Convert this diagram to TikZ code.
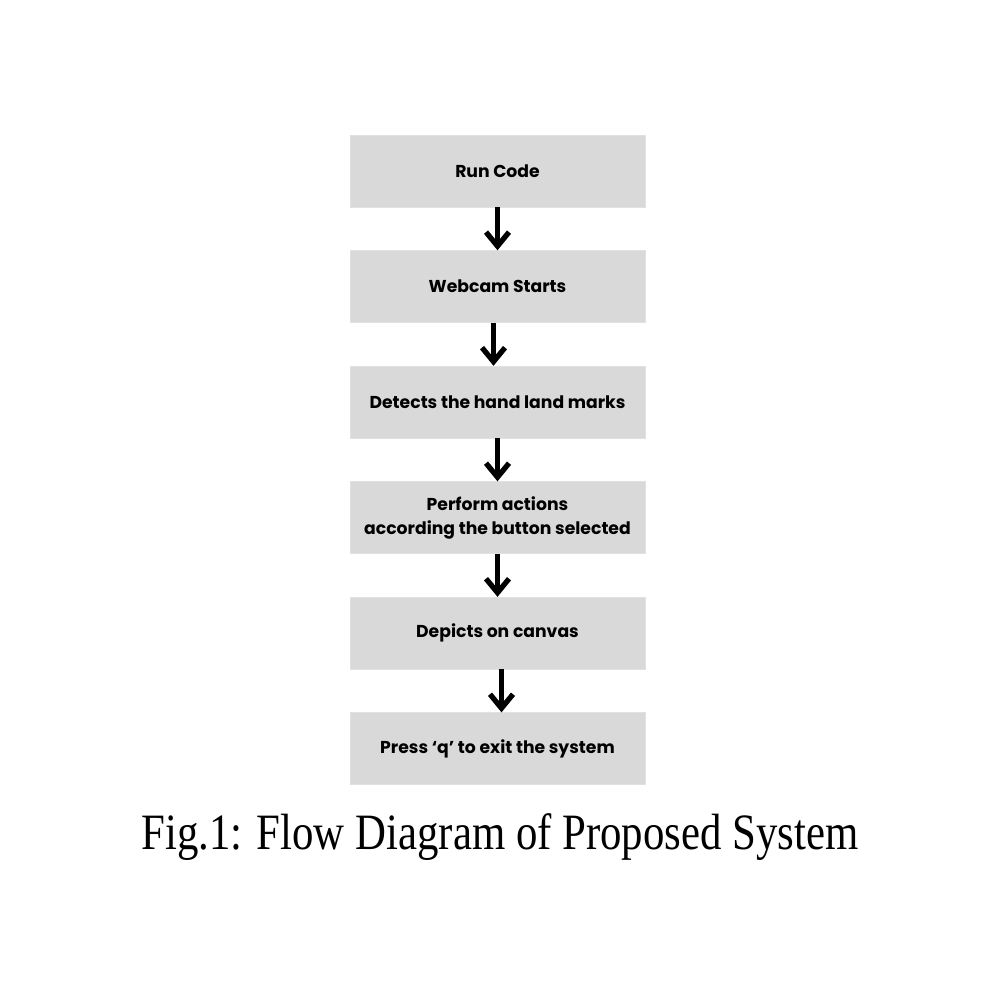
\documentclass[tikz,border=0pt]{standalone}
\usepackage{graphicx}
\usepackage{fontspec}
\setmainfont{Liberation Serif}
\newfontfamily\boxfont{Poppins}
\usetikzlibrary{
	arrows.meta,
	positioning
}
\definecolor{boxgray}{HTML}{D9D9D9}
\tikzset{
	flowbox/.style={fill=boxgray, draw=boxgray!80!white, line width=0.3pt, minimum width=5.9cm, minimum height=1.44cm, align=center,
		font=\boxfont\bfseries\fontsize{9.8}{13.6}\selectfont},
	flowarrow/.style={-{Straight Barb[length=0.28cm, width=0.46cm, line width=3pt]}, line width=3.2pt}
}

\begin{document}
\begin{tikzpicture}[node distance=0.86cm]
	\useasboundingbox (0,0) rectangle (20,-20);
	\node[flowbox] (code) at (9.95,-3.42) {Run Code};
	\node[flowbox] (webcam) [below=of code] {Webcam Starts};
	\node[flowbox] (detect) [below=of webcam] {Detects the hand land marks};
	\node[flowbox] (perform) [below=of detect] {Perform actions\\according the button selected};
	\node[flowbox] (depict) [below=of perform] {Depicts on canvas};
	\node[flowbox] (exit) [below=of depict] {Press ‘q’ to exit the system};

	% caption is set a little narrow, as in the figure
	\node[anchor=base, font=\fontsize{29}{34}\selectfont] (caption) at (10,-16.98) {\scalebox{0.84}[1]{Fig.1: Flow Diagram of Proposed System}};

	\draw[flowarrow] (code) -- (webcam);
	\draw[flowarrow] ([xshift=-0.08cm]webcam.south) -- ([xshift=-0.08cm]detect.north);
	\draw[flowarrow] (detect) -- (perform);
	\draw[flowarrow] (perform) -- (depict);
	\draw[flowarrow] ([xshift=0.08cm]depict.south) -- ([xshift=0.08cm]exit.north);
\end{tikzpicture}
\end{document}
